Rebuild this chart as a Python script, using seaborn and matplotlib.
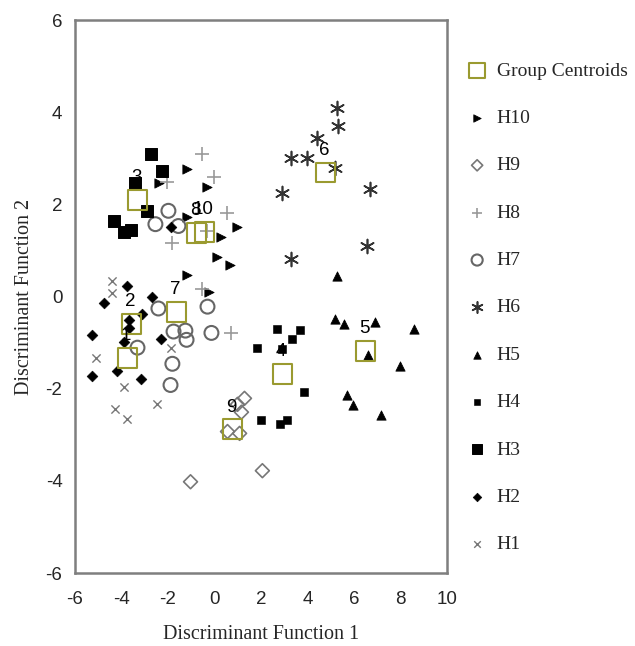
import numpy as np
import pandas as pd
import matplotlib
matplotlib.use("Agg")
import matplotlib.pyplot as plt
import seaborn as sns

# data
h10_x = [-1.20, -2.37, -0.34, -1.20, 0.95, 0.30, 0.13, 0.65, -1.20, -0.22]
h10_y = [2.77, 2.47, 2.38, 1.72, 1.51, 1.29, 0.85, 0.68, 0.46, 0.09]
h9_x = [1.29, 0.99, 1.16, 0.56, 1.08, 2.06, -1.03]
h9_y = [-2.21, -2.34, -2.51, -2.93, -2.97, -3.78, -4.02]
h8_x = [-0.52, 0.00, -2.02, 0.52, -0.30, -1.81, -0.52, 0.69]
h8_y = [3.10, 2.60, 2.49, 1.81, 1.42, 1.16, 0.17, -0.79]
h7_x = [-1.98, -2.54, -1.55, -2.41, -0.30, -1.76, -1.25, -1.20, -0.13, -3.31, -1.81, -1.89]
h7_y = [1.86, 1.57, 1.53, -0.26, -0.22, -0.76, -0.74, -0.94, -0.79, -1.11, -1.46, -1.92]
h6_x = [5.25, 5.29, 4.43, 3.27, 4.00, 5.20, 2.92, 6.67, 6.54, 3.27]
h6_y = [4.10, 3.71, 3.45, 3.01, 3.01, 2.79, 2.25, 2.34, 1.09, 0.81]
h5_x = [5.25, 5.20, 5.55, 6.92, 8.56, 6.62, 7.96, 5.68, 5.94, 7.18]
h5_y = [0.44, -0.48, -0.59, -0.55, -0.70, -1.27, -1.51, -2.14, -2.36, -2.58]
h4_x = [2.71, 3.66, 3.35, 1.85, 2.92, 3.87, 2.02, 2.80, 3.14]
h4_y = [-0.70, -0.72, -0.92, -1.11, -1.14, -2.07, -2.69, -2.77, -2.69]
h3_x = [-2.75, -2.24, -3.40, -2.88, -4.30, -3.91, -3.57]
h3_y = [3.10, 2.73, 2.47, 1.86, 1.64, 1.40, 1.44]
h2_x = [-3.78, -4.73, -2.67, -3.10, -3.66, -3.66, -5.25, -3.87, -2.28, -5.25, -4.17, -3.14, -1.85]
h2_y = [0.22, -0.15, 0.00, -0.37, -0.50, -0.68, -0.83, -0.98, -0.92, -1.72, -1.62, -1.79, 1.51]
h1_x = [-4.39, -4.39, -5.08, -1.89, -3.91, -2.49, -4.26, -3.78]
h1_y = [0.33, 0.07, -1.33, -1.11, -1.97, -2.34, -2.45, -2.66]

centroid_labels = ["1", "2", "3", "4", "5", "6", "7", "8", "9", "10"]
centroid_x = [-3.74, -3.57, -3.31, 2.92, 6.49, 4.77, -1.63, -0.77, 0.77, -0.43]
centroid_y = [-1.33, -0.59, 2.10, -1.68, -1.18, 2.69, -0.33, 1.38, -2.88, 1.40]

sns.set_style("white")
plt.rcParams["font.family"] = ["Liberation Sans", "DejaVu Sans"]
plt.rcParams["axes.unicode_minus"] = False

fig = plt.figure(figsize=(6.35, 6.46), dpi=100)
ax = fig.add_axes([0.118, 0.113, 0.586, 0.856])

groups = [
    ("H10", h10_x, h10_y, dict(marker=">", s=45, color="black", edgecolor="black")),
    ("H9", h9_x, h9_y, dict(marker="D", s=50, color="#777777", facecolor="none", edgecolor="#777777", linewidth=1.2)),
    ("H8", h8_x, h8_y, dict(marker="+", s=90, color="#999999", linewidth=1.2)),
    ("H7", h7_x, h7_y, dict(marker="o", s=100, color="#666666", facecolor="none", edgecolor="#666666", linewidth=1.5)),
    ("H6", h6_x, h6_y, dict(marker=(6, 2, 0), s=100, color="#333333", linewidth=1.2)),
    ("H5", h5_x, h5_y, dict(marker="^", s=45, color="black", edgecolor="black")),
    ("H4", h4_x, h4_y, dict(marker="s", s=28, color="black", edgecolor="black")),
    ("H3", h3_x, h3_y, dict(marker="s", s=75, color="black", edgecolor="black")),
    ("H2", h2_x, h2_y, dict(marker="D", s=30, color="black", edgecolor="black")),
    ("H1", h1_x, h1_y, dict(marker="x", s=35, color="#777777", linewidth=1.0)),
]

for name, xs, ys, kw in groups:
    df = pd.DataFrame({"x": xs, "y": ys})
    sns.scatterplot(data=df, x="x", y="y", ax=ax, legend=False, label=name, zorder=3, **kw)

cdf = pd.DataFrame({"x": centroid_x, "y": centroid_y, "lab": centroid_labels})
sns.scatterplot(data=cdf, x="x", y="y", ax=ax, legend=False, label="Group Centroids",
                marker="s", s=200, color="#9a9a30", facecolor="none",
                edgecolor="#9a9a30", linewidth=1.5, zorder=4)
# labels sit just above each centroid (8 and 10 overlap, as in the source)
for _, r in cdf.iterrows():
    ax.annotate(r["lab"], (r["x"], r["y"]), xytext=(-1, 16), textcoords="offset points",
                ha="center", va="center", fontsize=13.5, color="black", zorder=5)

ax.set_xlim(-6, 10)
ax.set_ylim(-6, 6)
ax.set_xticks(np.arange(-6, 11, 2))
ax.set_yticks(np.arange(-6, 7, 2))
ax.tick_params(direction="out", length=4, width=2, color="#222222", labelsize=13.5, pad=5)
ax.tick_params(axis="x", pad=9)
for sp in ax.spines.values():
    sp.set_color("#7f7f7f")
    sp.set_linewidth(1.8)

ax.set_xlabel("Discriminant Function 1", family="Liberation Serif", fontsize=14.5, labelpad=12)
ax.set_ylabel("Discriminant Function 2", family="Liberation Serif", fontsize=14.5, labelpad=8)

h, l = ax.get_legend_handles_labels()
order = ["Group Centroids", "H10", "H9", "H8", "H7", "H6", "H5", "H4", "H3", "H2", "H1"]
hl = dict(zip(l, h))
fig.legend([hl[k] for k in order], order, loc="upper left", bbox_to_anchor=(0.707, 0.931),
           frameon=False, labelspacing=1.53, handletextpad=0.45, handlelength=1.1,
           markerscale=0.8, prop={"family": "Liberation Serif", "size": 14})

fig.savefig("out.png", dpi=100)
